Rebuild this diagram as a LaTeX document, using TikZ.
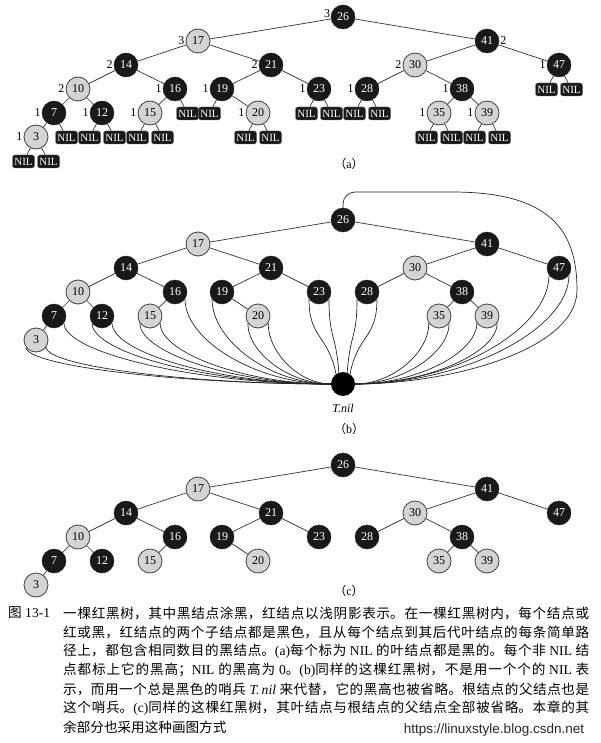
\documentclass[tikz,border=0pt]{standalone}
\usepackage{fontspec}
\setmainfont{Liberation Serif}
\newfontfamily\cjk{Noto Sans CJK SC}
\newfontfamily\wmfont{Liberation Sans}
\usetikzlibrary{calc}
\XeTeXlinebreaklocale "zh"
\XeTeXlinebreakskip=0pt plus 2pt
\newcommand\latn[1]{{\rmfamily #1}}

\begin{document}
\begin{tikzpicture}[x=1pt,y=-1pt,
  blacknode/.style={circle,draw=black!90,fill=black!90,text=white,minimum size=24pt,inner sep=0pt,font=\fontsize{12}{12}\selectfont},
  rednode/.style={circle,draw=black!75,line width=0.8pt,fill=black!17,text=black,minimum size=24pt,inner sep=0pt,font=\fontsize{12}{12}\selectfont},
  nilbox/.style={rectangle,rounded corners=2.5pt,draw=black!60,fill=black!90,text=white,minimum width=22pt,minimum height=13pt,inner sep=0pt,font=\fontsize{11}{11}\selectfont},
  sentinel/.style={circle,fill=black,minimum size=24pt,inner sep=0pt},
  bheight/.style={font=\fontsize{12}{12}\selectfont,inner sep=1pt},
  branch/.style={draw=black!80,line width=0.7pt},
  nilarc/.style={draw=black!85,line width=0.7pt},
  sublabel/.style={font=\cjk\fontsize{12}{12}\selectfont},
  capline/.style={anchor=west,inner sep=0pt,text width=526pt,align=justify,font=\cjk\fontsize{13.6}{16}\selectfont}]
\useasboundingbox (0,0) rectangle (600,743);

\foreach \t/\dy in {a/0,b/203,c/448}{
  \foreach \k/\x/\y/\s in {26/343/17/blacknode, 17/198/41/rednode, 41/487/41/blacknode,
      14/126/65/blacknode, 21/271/65/blacknode, 30/415/65/rednode, 47/559/65/blacknode,
      10/78/89/rednode, 16/175/89/blacknode, 19/222/89/blacknode, 23/319/89/blacknode,
      28/367/89/blacknode, 38/462/89/blacknode, 7/54/113/blacknode, 12/102/113/blacknode,
      15/150/113/rednode, 20/258/113/rednode, 35/439/113/rednode, 39/487/113/rednode,
      3/36/137/rednode}
    \node[\s] (\t\k) at (\x,\y+\dy) {\k};
  \foreach \p/\q in {26/17, 26/41, 17/14, 17/21, 41/30, 41/47, 14/10, 14/16, 21/19, 21/23,
      30/28, 30/38, 10/7, 10/12, 16/15, 19/20, 38/35, 38/39, 7/3}
    \draw[branch] (\t\p) -- (\t\q);
}

% (a)
\foreach \k/\h/\an/\at in {26/3/east/165, 17/3/east/west, 41/2/west/east, 14/2/east/west,
    21/2/east/west, 30/2/east/west, 47/1/east/west, 10/2/east/west, 16/1/east/west,
    19/1/east/west, 23/1/east/west, 28/1/east/west, 38/1/east/west, 7/1/east/west,
    12/1/east/west, 15/1/east/west, 20/1/east/west, 35/1/east/west, 39/1/east/west, 3/1/east/west}
  \node[bheight,anchor=\an] (h\k) at (a\k.\at) {\h};
\foreach \p/\d/\n in {3/-12.5/l, 3/12.5/r, 7/12.5/r, 12/-12.5/l, 12/12.5/r, 15/-12.5/l, 15/12.5/r,
    16/12.5/r, 19/-12.5/l, 20/-12.5/l, 20/12.5/r, 23/-12.5/l, 23/12.5/r, 28/-12.5/l, 28/12.5/r,
    35/-12.5/l, 35/12.5/r, 39/-12.5/l, 39/12.5/r, 47/-12.5/l, 47/12.5/r}{
  \node[nilbox] (nil\p\n) at ($(a\p)+(\d,24.5)$) {NIL};
  \draw[branch] (a\p) -- (nil\p\n);
}
\node[sublabel] (capa) at (349,164) {（\latn{a}）};

% (b)
\node[sentinel] (tnil) at (343,384) {};
\node[font=\itshape\fontsize{12}{12}\selectfont] (tnilname) at (343,408) {T.nil};
\foreach \p/\a/\v/\cx/\cy/\e in {3/215/19/-150/0/west, 3/325/19/-142/0/west, 7/325/30/-133/0/west,
    12/215/30/-120/0/west, 12/325/30/-110/0/west, 15/215/30/-95/0/west, 15/325/30/-85/0/west,
    16/325/42/-73/0/west, 19/215/42/-60/0/west, 20/215/30/-41/0/west, 20/325/30/-31/0/west,
    23/215/40/-8/-40/125, 23/325/40/-3/-40/110, 28/215/40/3/-40/70, 28/325/40/8/-40/55,
    35/215/30/37/0/east, 35/325/30/47/0/east, 39/215/30/61/0/east, 39/325/30/71/0/east,
    47/215/55/97/0/east, 47/325/55/107/0/east}
  \draw[nilarc] (b\p.\a) .. controls +(0,\v) and +(\cx,\cy) .. (tnil.\e);
\draw[nilarc] (b26.north) [rounded corners=12pt] -- (343,192) -- (440,192) [sharp corners]
  .. controls (550,192) and (577,230) .. (577,290) .. controls (577,350) and (450,384) .. (tnil.east);
\node[sublabel] (capb) at (349,429) {（\latn{b}）};

% (c)
\node[sublabel] (capc) at (349,591) {（\latn{c}）};

% caption
\node[anchor=west,inner sep=0pt,font=\cjk\fontsize{13.6}{16}\selectfont] (fig) at (8,613) {图\latn{ 13-1}};
\node[capline] (cap1) at (63,613) {\parfillskip=0pt 一棵红黑树，其中黑结点涂黑，红结点以浅阴影表示。在一棵红黑树内，每个结点或\par};
\node[capline] (cap2) at (63,632) {\parfillskip=0pt 红或黑，红结点的两个子结点都是黑色，且从每个结点到其后代叶结点的每条简单路\par};
\node[capline] (cap3) at (63,651) {\parfillskip=0pt 径上，都包含相同数目的黑结点。\latn{(a)}每个标为 \latn{NIL} 的叶结点都是黑的。每个非 \latn{NIL} 结\par};
\node[capline] (cap4) at (63,670) {\parfillskip=0pt 点都标上它的黑高；\latn{NIL} 的黑高为 \latn{0}。\latn{(b)}同样的这棵红黑树，不是用一个个的 \latn{NIL} 表\par};
\node[capline] (cap5) at (63,689) {\parfillskip=0pt 示，而用一个总是黑色的哨兵 \latn{\itshape T.\,nil} 来代替，它的黑高也被省略。根结点的父结点也是\par};
\node[capline] (cap6) at (63,708) {\parfillskip=0pt 这个哨兵。\latn{(c)}同样的这棵红黑树，其叶结点与根结点的父结点全部被省略。本章的其\par};
\node[capline] (cap7) at (63,727) {余部分也采用这种画图方式\par};
\node[font=\wmfont\fontsize{13.5}{14}\selectfont,text=black!85,inner sep=0pt] (mark) at (494,730) {https://linuxstyle.blog.csdn.net};
\end{tikzpicture}
\end{document}
